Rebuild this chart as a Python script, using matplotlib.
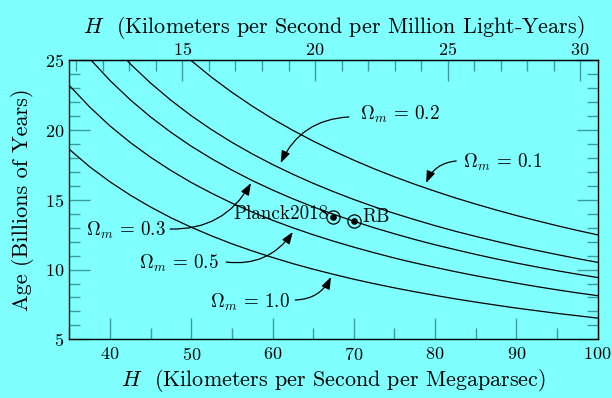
import matplotlib.pyplot as plt
from matplotlib.ticker import MultipleLocator

plt.rcParams['font.family'] = ['cmr10', 'DejaVu Serif']
plt.rcParams['mathtext.fontset'] = 'cm'
plt.rcParams['axes.unicode_minus'] = False
plt.rcParams['axes.formatter.use_mathtext'] = True

BG = '#80ffff'
TICK = '#3c9c9c'

# Hubble constant (km/s/Mpc) and age of the universe (Gyr) for flat models
hubble = [35, 37.5, 40, 42.5, 45, 47.5, 50, 52.5, 55, 57.5, 60, 62.5, 65, 67.5,
          70, 72.5, 75, 77.5, 80, 82.5, 85, 87.5, 90, 92.5, 95, 97.5, 100]
age_om10 = [18.63, 17.38, 16.30, 15.34, 14.49, 13.72, 13.04, 12.42, 11.85, 11.34, 10.87, 10.43, 10.03, 9.66,
            9.31, 8.99, 8.69, 8.41, 8.15, 7.90, 7.67, 7.45, 7.24, 7.05, 6.86, 6.69, 6.52]
age_om05 = [23.21, 21.67, 20.31, 19.12, 18.06, 17.11, 16.25, 15.48, 14.77, 14.13, 13.54, 13.00, 12.50, 12.04,
            11.61, 11.21, 10.83, 10.48, 10.16, 9.85, 9.56, 9.29, 9.03, 8.78, 8.55, 8.33, 8.13]
age_om03 = [26.93, 25.14, 23.57, 22.18, 20.95, 19.85, 18.85, 17.96, 17.14, 16.39, 15.71, 15.08, 14.50, 13.97,
            13.47, 13.00, 12.57, 12.16, 11.78, 11.43, 11.09, 10.77, 10.47, 10.19, 9.92, 9.67, 9.43]
age_om02 = [30.06, 28.06, 26.31, 24.76, 23.38, 22.15, 21.04, 20.04, 19.13, 18.30, 17.54, 16.84, 16.19, 15.59,
            15.03, 14.51, 14.03, 13.58, 13.15, 12.75, 12.38, 12.03, 11.69, 11.38, 11.08, 10.79, 10.52]
age_om01 = [35.70, 33.32, 31.24, 29.40, 27.76, 26.30, 24.99, 23.80, 22.72, 21.73, 20.82, 19.99, 19.22, 18.51,
            17.85, 17.23, 16.66, 16.12, 15.62, 15.14, 14.70, 14.28, 13.88, 13.51, 13.15, 12.81, 12.49]

# measurements
meas_names = ['Planck2018', 'RB']
meas_h = [67.4, 70.0]
meas_age = [13.8, 13.5]

MPC_IN_MLY = 3.2616

fig = plt.figure(figsize=(6.12, 3.98), dpi=100, facecolor=BG)
ax = fig.add_axes([0.1132, 0.1475, 0.8634, 0.7005], facecolor=BG)

for ages in [age_om10, age_om05, age_om03, age_om02, age_om01]:
    ax.plot(hubble, ages, color='black', lw=0.9)

for h, a in zip(meas_h, meas_age):
    ax.plot(h, a, 'o', ms=9.5, mfc='none', mec='black', mew=0.9)
    ax.plot(h, a, 'o', ms=3.8, color='black')
ax.text(66.85, 13.95, meas_names[0], ha='right', va='center', fontsize=13.7)
ax.text(71.1, 13.8, meas_names[1], ha='left', va='center', fontsize=13.7)

# labels with curved arrows: (text, text xy, align, arrow start, arrow tip)
notes = [
    (r'$\Omega_m\,=\,0.2$', (70.8, 21.1), 'left', (69.4, 20.95), (61.0, 17.65)),
    (r'$\Omega_m\,=\,0.1$', (83.45, 17.72), 'left', (82.6, 17.79), (78.9, 16.21)),
    (r'$\Omega_m\,=\,0.3$', (46.9, 12.84), 'right', (47.4, 12.91), (57.35, 16.21)),
    (r'$\Omega_m\,=\,0.5$', (53.4, 10.47), 'right', (54.3, 10.54), (62.5, 12.70)),
    (r'$\Omega_m\,=\,1.0$', (62.1, 7.67), 'right', (62.8, 7.82), (67.2, 9.47)),
]
for label, txy, ha, start, tip in notes:
    ax.text(txy[0], txy[1], label, ha=ha, va='center', fontsize=13.7)
    ax.annotate('', xy=tip, xytext=start,
                arrowprops=dict(arrowstyle='-|>,head_length=0.6,head_width=0.22',
                                color='black', lw=0.9,
                                mutation_scale=12, shrinkA=0, shrinkB=0,
                                connectionstyle='arc3,rad=0.3'))

ax.set_xlim(35, 100)
ax.set_ylim(5, 25)
ax.xaxis.set_major_locator(MultipleLocator(10))
ax.xaxis.set_minor_locator(MultipleLocator(5))
ax.yaxis.set_major_locator(MultipleLocator(5))
ax.yaxis.set_minor_locator(MultipleLocator(1))
ax.tick_params(which='both', direction='in', color=TICK, width=1.0,
               bottom=True, left=True, right=True, top=False, labelsize=13)
ax.tick_params(which='major', length=15)
ax.tick_params(which='minor', length=8)
ax.tick_params(axis='x', pad=5)
ax.set_xlabel(r'$H$  (Kilometers per Second per Megaparsec)', fontsize=15.9, labelpad=3)
ax.set_ylabel('Age (Billions of Years)', fontsize=16, labelpad=8)

top = ax.secondary_xaxis('top', functions=(lambda h: h / MPC_IN_MLY,
                                           lambda v: v * MPC_IN_MLY))
top.set_xticks([15, 20, 25, 30])
top.xaxis.set_minor_locator(MultipleLocator(1))
top.tick_params(which='both', direction='in', color=TICK, width=1.0, labelsize=13, pad=1.5)
top.tick_params(which='major', length=15)
top.tick_params(which='minor', length=8)
top.set_xlabel(r'$H$  (Kilometers per Second per Million Light-Years)', fontsize=15.9, labelpad=6)

for s in ax.spines.values():
    s.set_color('black')
    s.set_linewidth(1.0)

fig.savefig('out.png', dpi=100, facecolor=BG)
